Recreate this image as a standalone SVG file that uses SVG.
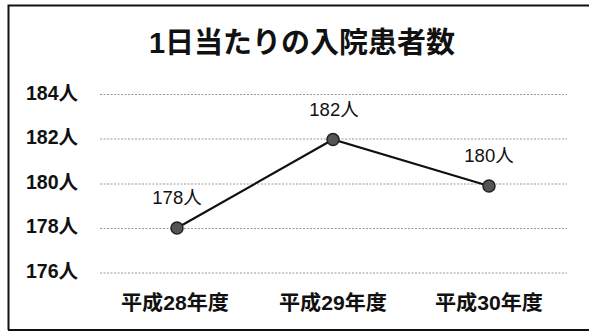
<svg xmlns="http://www.w3.org/2000/svg" width="589" height="336" viewBox="0 0 589 336">
<style>
.t{font-family:"Liberation Sans","Noto Sans CJK JP",sans-serif;fill:#111}
.ax{font-size:20.5px;font-weight:bold;text-anchor:middle}
.yl{font-size:19.5px;font-weight:bold;text-anchor:end}
.dl{font-size:18.5px;text-anchor:middle}
.grid{stroke:#999;stroke-width:1;stroke-dasharray:2 1.5;fill:none}
.mk{fill:#555;stroke:#222;stroke-width:1.5}
</style>
<rect x="0" y="0" width="589" height="336" fill="#fff"/>
<path d="M8.5 330 V5.5 H589 M8 330 H589" stroke="#111" stroke-width="2" fill="none"/>
<g id="title"><text class="t" x="302" y="53" font-size="29" font-weight="bold" text-anchor="middle">1日当たりの入院患者数</text></g>
<g id="gridlines">
<line class="grid" x1="100" y1="94.5" x2="567" y2="94.5"/>
<line class="grid" x1="100" y1="139" x2="567" y2="139"/>
<line class="grid" x1="100" y1="184" x2="567" y2="184"/>
<line class="grid" x1="100" y1="228.5" x2="567" y2="228.5"/>
<line class="grid" x1="100" y1="273" x2="567" y2="273"/>
</g>
<g id="y-axis">
<text class="t yl" x="78" y="100">184人</text>
<text class="t yl" x="78" y="144">182人</text>
<text class="t yl" x="78" y="189">180人</text>
<text class="t yl" x="78" y="233">178人</text>
<text class="t yl" x="78" y="278">176人</text>
</g>
<g id="x-axis">
<text class="t ax" x="175" y="310" textLength="108" lengthAdjust="spacingAndGlyphs">平成28年度</text>
<text class="t ax" x="333" y="310" textLength="108" lengthAdjust="spacingAndGlyphs">平成29年度</text>
<text class="t ax" x="489" y="310" textLength="108" lengthAdjust="spacingAndGlyphs">平成30年度</text>
</g>
<g id="connectors">
<polyline points="177,228 333,139.5 489,186" fill="none" stroke="#111" stroke-width="2.2"/>
</g>
<g id="p2016"><circle class="mk" cx="177" cy="228" r="6"/><text class="t dl" x="177" y="204">178人</text></g>
<g id="p2017"><circle class="mk" cx="333" cy="139.5" r="6"/><text class="t dl" x="334" y="116">182人</text></g>
<g id="p2018"><circle class="mk" cx="489" cy="186" r="6"/><text class="t dl" x="489" y="162">180人</text></g>
</svg>
